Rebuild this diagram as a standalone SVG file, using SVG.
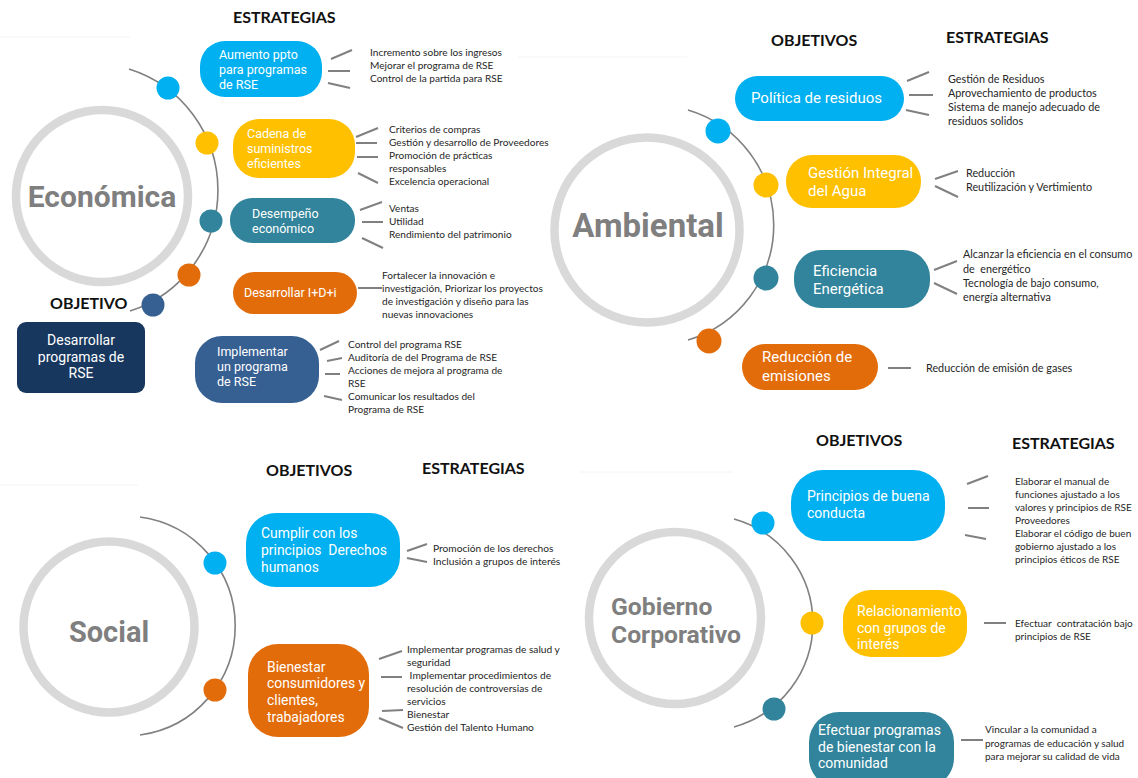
<svg xmlns="http://www.w3.org/2000/svg" width="1138" height="778" viewBox="0 0 1138 778">
  <style>
    .bg { fill: #ffffff; }
    .seam { stroke: #f4f4f4; stroke-width: 1; }
    .ring { fill: #ffffff; stroke: #d9d9d9; stroke-width: 8.5; }
    .orbit { fill: none; stroke: #808080; stroke-width: 1.6; }
    .title { font-family: Roboto, "DejaVu Sans", sans-serif; font-weight: bold; fill: #7f7f7f; }
    .head { font-family: Lato, "Liberation Sans", sans-serif; font-weight: bold; font-size: 16px; fill: #111111; }
    .lbl { font-family: Roboto, "DejaVu Sans", sans-serif; fill: #ffffff; }
    .body { font-family: Lato, "Liberation Sans", sans-serif; fill: #262626; }
    .tick { stroke: #808080; stroke-width: 2; stroke-linecap: butt; }
    .cyan { fill: #00b0f0; }
    .yellow { fill: #ffc000; }
    .teal { fill: #31849b; }
    .orange { fill: #e36c0a; }
    .blue { fill: #376092; }
    .navy { fill: #17375e; }
  </style>

  <rect class="bg" x="0" y="0" width="1138" height="778"/>

  <!-- faint sheet seams -->
  <g id="seams">
    <line class="seam" x1="0" y1="37" x2="130" y2="37"/>
    <line class="seam" x1="518" y1="57" x2="687" y2="57"/>
    <line class="seam" x1="0" y1="485" x2="138" y2="485"/>
    <line class="seam" x1="580" y1="472" x2="733" y2="472"/>
  </g>

  <!-- ============ ECONÓMICA ============ -->
  <g id="economica-hub">
    <circle class="ring" cx="102" cy="196" r="86"/>
    <text class="title" x="102" y="207" font-size="30" text-anchor="middle">Económica</text>
    <path class="orbit" d="M 129 69 A 127 127 0 0 1 130 311"/>
    <circle class="cyan" cx="168" cy="88" r="11.5"/>
    <circle class="yellow" cx="207" cy="143" r="11.5"/>
    <circle class="teal" cx="211" cy="221" r="11.5"/>
    <circle class="orange" cx="189" cy="275" r="11.5"/>
    <circle class="blue" cx="153" cy="305" r="11.5"/>
  </g>
  <text class="head" x="233" y="23" font-size="16.2">ESTRATEGIAS</text>
  <text class="head" x="50" y="309" font-size="15.5">OBJETIVO</text>

  <g id="eco-objetivo">
    <rect class="navy" x="17" y="322" width="128" height="71" rx="9"/>
    <text class="lbl" font-size="14" text-anchor="middle"><tspan x="81" y="345">Desarrollar</tspan><tspan x="81" y="362">programas de</tspan><tspan x="81" y="378">RSE</tspan></text>
  </g>

  <g id="eco-aumento">
    <rect class="cyan" x="200" y="41" width="122" height="56" rx="25"/>
    <text class="lbl" font-size="12.5"><tspan x="219" y="59">Aumento ppto</tspan><tspan x="219" y="74">para programas</tspan><tspan x="219" y="89">de RSE</tspan></text>
    <text class="body" font-size="10.1"><tspan x="370" y="56">Incremento sobre los ingresos</tspan><tspan x="370" y="69">Mejorar el programa de RSE</tspan><tspan x="370" y="82">Control de la partida para RSE</tspan></text>
  </g>

  <g id="eco-cadena">
    <rect class="yellow" x="233" y="119" width="122" height="59" rx="26"/>
    <text class="lbl" font-size="12.5"><tspan x="247" y="137.5">Cadena de</tspan><tspan x="247" y="152.5">suministros</tspan><tspan x="247" y="167.5">eficientes</tspan></text>
    <text class="body" font-size="10.1"><tspan x="389" y="133">Criterios de compras</tspan><tspan x="389" y="146">Gestión y desarrollo de Proveedores</tspan><tspan x="389" y="159">Promoción de prácticas</tspan><tspan x="389" y="172">responsables</tspan><tspan x="389" y="185">Excelencia operacional</tspan></text>
  </g>

  <g id="eco-desempeno">
    <rect class="teal" x="230" y="198" width="125" height="45" rx="22"/>
    <text class="lbl" font-size="12.5"><tspan x="252" y="217.5">Desempeño</tspan><tspan x="252" y="232.5">económico</tspan></text>
    <text class="body" font-size="10.1"><tspan x="389" y="212">Ventas</tspan><tspan x="389" y="225">Utilidad</tspan><tspan x="389" y="238">Rendimiento del patrimonio</tspan></text>
  </g>

  <g id="eco-idi">
    <rect class="orange" x="233" y="272" width="124" height="42" rx="21"/>
    <text class="lbl" font-size="12.5" x="244" y="296.5">Desarrollar I+D+i</text>
    <text class="body" font-size="10.1"><tspan x="382" y="279">Fortalecer la innovación e</tspan><tspan x="382" y="292">investigación, Priorizar los proyectos</tspan><tspan x="382" y="305">de investigación y diseño para las</tspan><tspan x="382" y="318">nuevas innovaciones</tspan></text>
  </g>

  <g id="eco-implementar">
    <rect class="blue" x="195" y="336" width="124" height="67" rx="27"/>
    <text class="lbl" font-size="12.5"><tspan x="217" y="355.5">Implementar</tspan><tspan x="217" y="370.5">un programa</tspan><tspan x="217" y="385.5">de RSE</tspan></text>
    <text class="body" font-size="10.1"><tspan x="348" y="348">Control del programa RSE</tspan><tspan x="348" y="361">Auditoría de del Programa de RSE</tspan><tspan x="348" y="374">Acciones de mejora al programa de</tspan><tspan x="348" y="387">RSE</tspan><tspan x="348" y="400">Comunicar los resultados del</tspan><tspan x="348" y="413">Programa de RSE</tspan></text>
  </g>

  <!-- ============ AMBIENTAL ============ -->
  <g id="ambiental-hub">
    <circle class="ring" cx="647" cy="230" r="92.5" stroke-width="9"/>
    <text class="title" x="648" y="237" font-size="33" text-anchor="middle">Ambiental</text>
    <path class="orbit" d="M 688 110 A 120 120 0 0 1 688 340"/>
    <circle class="cyan" cx="718" cy="131" r="12.5"/>
    <circle class="yellow" cx="766" cy="185" r="12.5"/>
    <circle class="teal" cx="766" cy="278" r="12.5"/>
    <circle class="orange" cx="709" cy="341" r="12.5"/>
  </g>
  <text class="head" x="771" y="46" font-size="17">OBJETIVOS</text>
  <text class="head" x="946" y="43" font-size="18">ESTRATEGIAS</text>

  <g id="amb-residuos">
    <rect class="cyan" x="735" y="76" width="169" height="45" rx="22.5"/>
    <text class="lbl" font-size="15" x="751" y="103">Política de residuos</text>
    <text class="body" font-size="10.8"><tspan x="948" y="83">Gestión de Residuos</tspan><tspan x="948" y="97">Aprovechamiento de productos</tspan><tspan x="948" y="111">Sistema de manejo adecuado de</tspan><tspan x="948" y="125">residuos solidos</tspan></text>
  </g>

  <g id="amb-agua">
    <rect class="yellow" x="786" y="155" width="135" height="53" rx="26"/>
    <text class="lbl" font-size="15"><tspan x="808" y="178">Gestión Integral</tspan><tspan x="808" y="196">del Agua</tspan></text>
    <text class="body" font-size="10.8"><tspan x="966" y="177">Reducción</tspan><tspan x="966" y="191">Reutilización y Vertimiento</tspan></text>
  </g>

  <g id="amb-energia">
    <rect class="teal" x="794" y="250" width="136" height="58" rx="27"/>
    <text class="lbl" font-size="15"><tspan x="813" y="276">Eficiencia</tspan><tspan x="813" y="294">Energética</tspan></text>
    <text class="body" font-size="10.8"><tspan x="963" y="258">Alcanzar la eficiencia en el consumo</tspan><tspan x="963" y="273" xml:space="preserve">de  energético</tspan><tspan x="963" y="287">Tecnología de bajo consumo,</tspan><tspan x="963" y="301">energía alternativa</tspan></text>
  </g>

  <g id="amb-emisiones">
    <rect class="orange" x="742" y="344" width="136" height="46" rx="23"/>
    <text class="lbl" font-size="15"><tspan x="762" y="362">Reducción de</tspan><tspan x="762" y="381">emisiones</tspan></text>
    <text class="body" font-size="10.8" x="926" y="372">Reducción de emisión de gases</text>
  </g>

  <!-- ============ SOCIAL ============ -->
  <g id="social-hub">
    <circle class="ring" cx="109" cy="627" r="85.5"/>
    <text class="title" x="109" y="642" font-size="29" text-anchor="middle">Social</text>
    <path class="orbit" d="M 140 517 A 110 110 0 0 1 140 735"/>
    <circle class="cyan" cx="215" cy="563" r="11.5"/>
    <circle class="orange" cx="215" cy="690" r="11.5"/>
  </g>
  <text class="head" x="266" y="476">OBJETIVOS</text>
  <text class="head" x="422" y="474" font-size="15.9">ESTRATEGIAS</text>

  <g id="soc-derechos">
    <rect class="cyan" x="246" y="513" width="154" height="74" rx="30"/>
    <text class="lbl" font-size="13.9"><tspan x="261" y="538">Cumplir con los</tspan><tspan x="261" y="555" xml:space="preserve">principios  Derechos</tspan><tspan x="261" y="572">humanos</tspan></text>
    <text class="body" font-size="10.2"><tspan x="433" y="551.5">Promoción de los derechos</tspan><tspan x="433" y="564.5">Inclusión a grupos de interés</tspan></text>
  </g>

  <g id="soc-bienestar">
    <rect class="orange" x="248" y="644" width="121" height="93" rx="30"/>
    <text class="lbl" font-size="13.9"><tspan x="267" y="672">Bienestar</tspan><tspan x="267" y="688">consumidores y</tspan><tspan x="267" y="705">clientes,</tspan><tspan x="267" y="722">trabajadores</tspan></text>
    <text class="body" font-size="10.2"><tspan x="407" y="652.5">Implementar programas de salud y</tspan><tspan x="407" y="665.5">seguridad</tspan><tspan x="407" y="678.5" xml:space="preserve"> Implementar procedimientos de</tspan><tspan x="407" y="691.5">resolución de controversias de</tspan><tspan x="407" y="704.5">servicios</tspan><tspan x="407" y="717.5">Bienestar</tspan><tspan x="407" y="730.5">Gestión del Talento Humano</tspan></text>
  </g>

  <!-- ============ GOBIERNO CORPORATIVO ============ -->
  <g id="gobierno-hub">
    <circle class="ring" cx="675" cy="618" r="86"/>
    <text class="title" font-size="24.7"><tspan x="611" y="615">Gobierno</tspan><tspan x="611" y="643">Corporativo</tspan></text>
    <path class="orbit" d="M 734 519 A 108 108 0 0 1 734 727"/>
    <circle class="cyan" cx="763" cy="523" r="11.5"/>
    <circle class="yellow" cx="812" cy="623" r="11.5"/>
    <circle class="teal" cx="774" cy="709" r="11.5"/>
  </g>
  <text class="head" x="816" y="446" font-size="15.5">OBJETIVOS</text>
  <text class="head" x="1012" y="449" font-size="15.9">ESTRATEGIAS</text>

  <g id="gob-conducta">
    <rect class="cyan" x="791" y="470" width="154" height="71" rx="32"/>
    <text class="lbl" font-size="14"><tspan x="807" y="501">Principios de buena</tspan><tspan x="807" y="518">conducta</tspan></text>
    <text class="body" font-size="10"><tspan x="1015" y="484.5">Elaborar el manual de</tspan><tspan x="1015" y="497.5">funciones ajustado a los</tspan><tspan x="1015" y="510.5">valores y principios de RSE</tspan><tspan x="1015" y="523.5">Proveedores</tspan><tspan x="1015" y="536.5">Elaborar el código de buen</tspan><tspan x="1015" y="549.5">gobierno ajustado a los</tspan><tspan x="1015" y="562.5">principios éticos de RSE</tspan></text>
  </g>

  <g id="gob-relacionamiento">
    <rect class="yellow" x="843" y="590" width="124" height="67" rx="28"/>
    <text class="lbl" font-size="14"><tspan x="857" y="616">Relacionamiento</tspan><tspan x="857" y="633">con grupos de</tspan><tspan x="857" y="649">interés</tspan></text>
    <text class="body" font-size="10"><tspan x="1015" y="626.5" xml:space="preserve">Efectuar  contratación bajo</tspan><tspan x="1015" y="639.5">principios de RSE</tspan></text>
  </g>

  <g id="gob-comunidad">
    <rect class="teal" x="809" y="712" width="145" height="76" rx="30"/>
    <text class="lbl" font-size="14"><tspan x="818" y="735">Efectuar programas</tspan><tspan x="818" y="752">de bienestar con la</tspan><tspan x="818" y="768">comunidad</tspan></text>
    <text class="body" font-size="10"><tspan x="985" y="732.5">Vincular a la comunidad a</tspan><tspan x="985" y="746.5">programas de educación y salud</tspan><tspan x="985" y="759.5">para mejorar su calidad de vida</tspan></text>
  </g>

  <!-- short ticks joining each objective to its strategy list -->
  <g id="connectors">
    <line class="tick" x1="331" y1="59" x2="352" y2="50"/>
    <line class="tick" x1="328" y1="71" x2="350" y2="71"/>
    <line class="tick" x1="328" y1="83" x2="350" y2="88"/>

    <line class="tick" x1="356" y1="137" x2="378" y2="128"/>
    <line class="tick" x1="356" y1="143" x2="377" y2="143"/>
    <line class="tick" x1="357" y1="157" x2="378" y2="157"/>
    <line class="tick" x1="358" y1="173" x2="378" y2="183"/>

    <line class="tick" x1="360" y1="210" x2="382" y2="202"/>
    <line class="tick" x1="362" y1="222" x2="383" y2="222"/>
    <line class="tick" x1="362" y1="238" x2="383" y2="248"/>

    <line class="tick" x1="358" y1="288" x2="382" y2="288"/>

    <line class="tick" x1="320" y1="350" x2="339" y2="341"/>
    <line class="tick" x1="327" y1="361" x2="342" y2="358"/>
    <line class="tick" x1="325" y1="374" x2="340" y2="374"/>
    <line class="tick" x1="324" y1="396" x2="342" y2="400"/>

    <line class="tick" x1="907" y1="81" x2="929" y2="72"/>
    <line class="tick" x1="909" y1="95" x2="933" y2="95"/>
    <line class="tick" x1="906" y1="110" x2="929" y2="115"/>

    <line class="tick" x1="935" y1="179" x2="958" y2="171"/>
    <line class="tick" x1="935" y1="186" x2="958" y2="197"/>

    <line class="tick" x1="934" y1="270" x2="957" y2="261"/>
    <line class="tick" x1="934" y1="283" x2="957" y2="294"/>

    <line class="tick" x1="888" y1="368" x2="911" y2="368"/>

    <line class="tick" x1="407" y1="551" x2="427" y2="544"/>
    <line class="tick" x1="407" y1="558" x2="427" y2="562"/>

    <line class="tick" x1="379" y1="659" x2="402" y2="651"/>
    <line class="tick" x1="381" y1="677" x2="402" y2="677"/>
    <line class="tick" x1="382" y1="711" x2="403" y2="710"/>
    <line class="tick" x1="379" y1="718" x2="403" y2="728"/>

    <line class="tick" x1="967" y1="484" x2="988" y2="476"/>
    <line class="tick" x1="968" y1="508" x2="989" y2="508"/>
    <line class="tick" x1="965" y1="535" x2="986" y2="539"/>

    <line class="tick" x1="984" y1="623" x2="1006" y2="623"/>

    <line class="tick" x1="961" y1="740" x2="983" y2="740"/>
  </g>
</svg>
